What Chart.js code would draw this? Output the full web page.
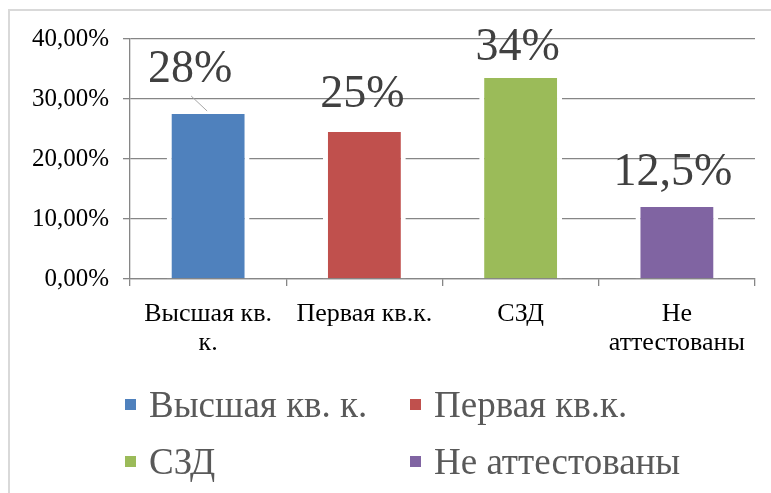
<!DOCTYPE html>
<html>
<head>
<meta charset="utf-8">
<script src="https://cdn.jsdelivr.net/npm/chart.js@4/dist/chart.umd.min.js"></script>
<style>
  html, body { margin: 0; padding: 0; background: #fff; }
  #wrap { position: relative; width: 771px; height: 493px; overflow: hidden; }
  #frame { position: absolute; left: 8px; top: 9px; right: -10px; bottom: -10px;
           border-top: 2px solid #d9d9d9; border-left: 2px solid #d9d9d9; }
  #legend { position: absolute; left: 125px; top: 382px; width: 620px;
            display: grid; grid-template-columns: 285px 320px; row-gap: 13px;
            font-family: "Liberation Serif", serif; font-size: 37px; color: #595959; }
  #legend .item { display: flex; align-items: center; height: 44px; white-space: nowrap; }
  #legend .box { width: 11px; height: 11px; margin-right: 13px; flex: none; }
</style>
</head>
<body>
<div id="wrap">
  <div id="frame"></div>
  <canvas id="chart" width="771" height="493"></canvas>
  <div id="legend"></div>
</div>
<script>
// данные диаграммы
const categories = [['Высшая кв.', 'к.'], 'Первая кв.к.', 'СЗД', ['Не', 'аттестованы']];
const legendNames = ['Высшая кв. к.', 'Первая кв.к.', 'СЗД', 'Не аттестованы'];
const values = [27.5, 24.5, 33.5, 12];
const valueLabels = ['28%', '25%', '34%', '12,5%'];
const colors = ['#4f81bd', '#c0504d', '#9bbb59', '#8064a2'];
const yTicks = [0, 10, 20, 30, 40];

// подписи данных над столбцами
const valueLabelPlugin = {
    id: 'valueLabels',
    afterDatasetsDraw(chart, args, opts) {
        const ctx = chart.ctx;
        const meta = chart.getDatasetMeta(0);
        ctx.save();
        ctx.font = opts.font;
        ctx.fillStyle = opts.color;
        ctx.textAlign = 'center';
        ctx.textBaseline = 'alphabetic';
        meta.data.forEach(function(bar, i) {
            const off = opts.offsets[i];
            const x = bar.x + off[0];
            const y = bar.y + off[1];
            if (i === 0) {
                ctx.strokeStyle = '#a6a6a6';
                ctx.lineWidth = 1;
                ctx.beginPath();
                ctx.moveTo(x + 1, y + 14);
                ctx.lineTo(bar.x - 1, bar.y - 3);
                ctx.stroke();
            }
            ctx.fillText(valueLabels[i], x, y);
        });
        ctx.restore();
    }
};

function drawChart() {
    const ctx = document.getElementById('chart').getContext('2d');
    new Chart(ctx, {
        type: 'bar',
        data: {
            labels: categories,
            datasets: [{
                data: values,
                backgroundColor: colors,
                borderColor: '#ffffff',
                borderWidth: { left: 5, right: 5, top: 0, bottom: 0 },
                borderSkipped: false,
                categoryPercentage: 1,
                barPercentage: 0.53
            }]
        },
        options: {
            responsive: false,
            animation: false,
            layout: { padding: { left: 0, right: 16, top: 39, bottom: 0 } },
            scales: {
                y: {
                    min: 0,
                    max: 40,
                    afterFit: function(scale) { scale.width = 130; },
                    afterBuildTicks: function(scale) { scale.ticks = yTicks.map(v => ({ value: v })); },
                    grid: { color: '#868686', lineWidth: 1.3, tickLength: 7 },
                    border: { color: '#868686', width: 1.3 },
                    ticks: {
                        color: '#000',
                        padding: 14,
                        font: { family: '"Liberation Serif"', size: 25 },
                        callback: v => v.toFixed(2).replace('.', ',') + '%'
                    }
                },
                x: {
                    afterFit: function(scale) { scale.height = 214; },
                    grid: { display: true, drawOnChartArea: false, color: '#868686', lineWidth: 1.3, tickLength: 7, offset: true },
                    border: { color: '#868686', width: 1.3 },
                    ticks: {
                        color: '#000',
                        padding: 13,
                        maxRotation: 0,
                        autoSkip: false,
                        font: { family: '"Liberation Serif"', size: 26, lineHeight: 1.13 }
                    }
                }
            },
            plugins: {
                legend: { display: false },
                tooltip: { enabled: false },
                valueLabels: {
                    font: '46px "Liberation Serif"',
                    color: '#404040',
                    offsets: [[-18, -32], [-2, -25], [-3, -18], [-4, -22]]
                }
            }
        },
        plugins: [valueLabelPlugin]
    });
}

// легенда в две колонки
const legendEl = document.getElementById('legend');
legendNames.forEach(function(name, i) {
    const item = document.createElement('div');
    item.className = 'item';
    const box = document.createElement('span');
    box.className = 'box';
    box.style.background = colors[i];
    const txt = document.createElement('span');
    txt.textContent = name;
    item.appendChild(box);
    item.appendChild(txt);
    legendEl.appendChild(item);
});

Promise.all([
    document.fonts.load('25px "Liberation Serif"', 'Высшая 40,00%'),
    document.fonts.load('46px "Liberation Serif"', '28%')
]).then(drawChart, drawChart);
</script>
</body>
</html>
